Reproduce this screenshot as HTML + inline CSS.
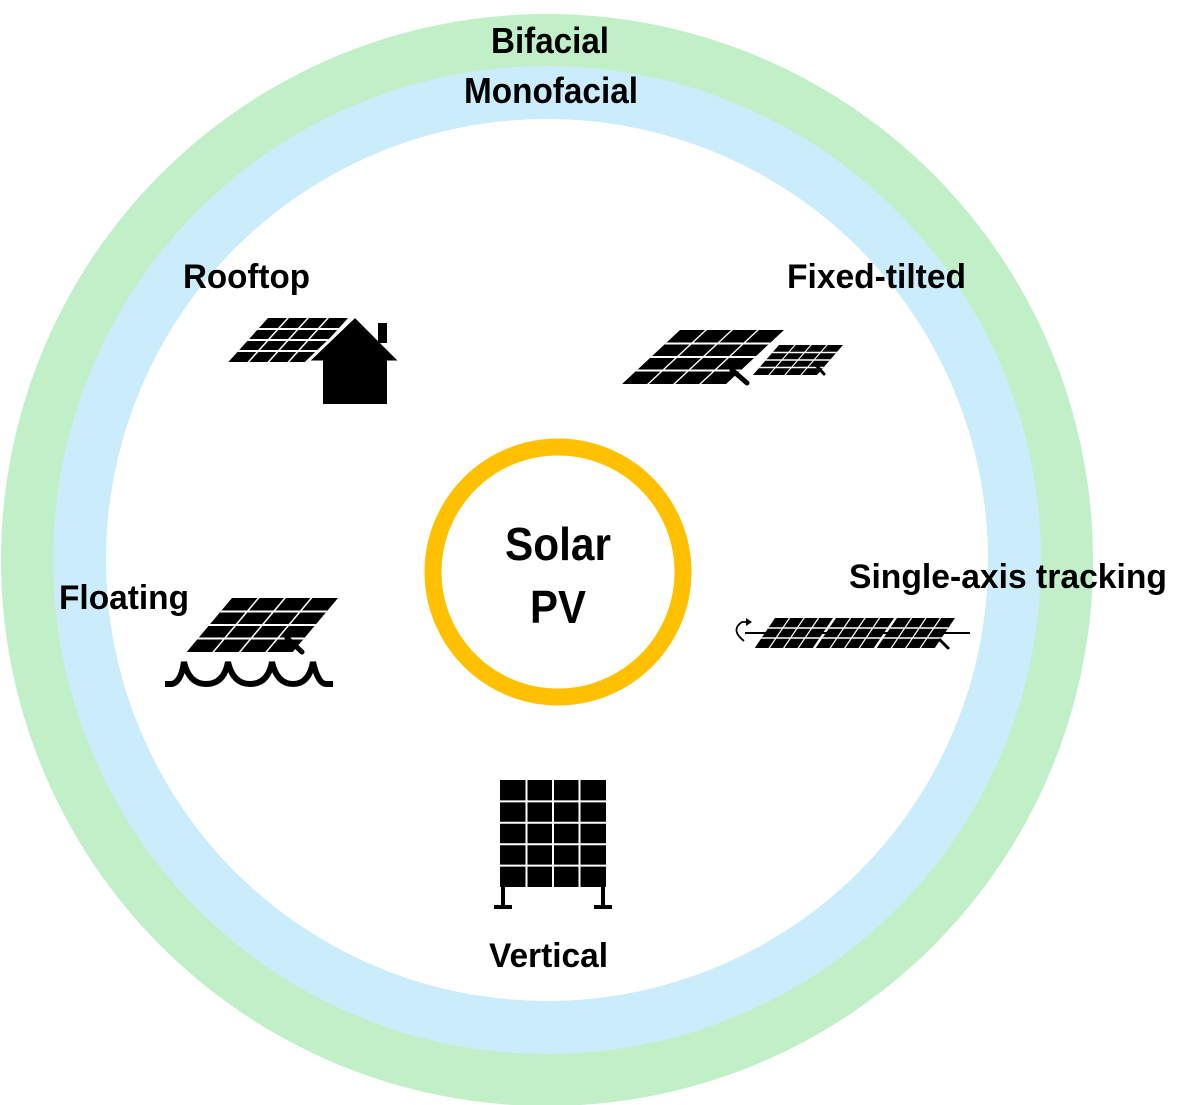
<!DOCTYPE html>
<html><head><meta charset="utf-8"><style>
html,body{margin:0;padding:0;background:#fff;width:1200px;height:1105px;overflow:hidden}
text{font-family:"Liberation Sans",Arial,sans-serif;font-weight:bold;fill:#000}
</style></head><body>
<svg width="1200" height="1105" viewBox="0 0 1200 1105" xmlns="http://www.w3.org/2000/svg">
<circle cx="547" cy="560" r="546" fill="#c1efc8"/>
<circle cx="547" cy="560" r="494" fill="#cbecfa"/>
<circle cx="547" cy="560" r="441" fill="#fff"/>
<circle cx="558" cy="572" r="125" fill="none" stroke="#ffc000" stroke-width="17"/>

<text x="491" y="53" font-size="36" textLength="118" lengthAdjust="spacingAndGlyphs">Bifacial</text>
<text x="464" y="103" font-size="36" textLength="174" lengthAdjust="spacingAndGlyphs">Monofacial</text>
<text x="183" y="288" font-size="34" textLength="127" lengthAdjust="spacingAndGlyphs">Rooftop</text>
<text x="787" y="288" font-size="34" textLength="179" lengthAdjust="spacingAndGlyphs">Fixed-tilted</text>
<text x="59" y="609" font-size="34" textLength="130" lengthAdjust="spacingAndGlyphs">Floating</text>
<text x="849" y="588" font-size="34" textLength="318" lengthAdjust="spacingAndGlyphs">Single-axis tracking</text>
<text x="489" y="967" font-size="34" textLength="119" lengthAdjust="spacingAndGlyphs">Vertical</text>
<text x="505" y="560" font-size="46" textLength="106" lengthAdjust="spacingAndGlyphs">Solar</text>
<text x="530" y="623" font-size="46" textLength="56" lengthAdjust="spacingAndGlyphs">PV</text>

<!-- Rooftop -->
<g transform="translate(268,318) skewX(-42)">
<rect width="80" height="44" fill="#000"/>
<g stroke="#fff" stroke-width="2"><line x1="20" y1="0" x2="20" y2="44"/><line x1="40" y1="0" x2="40" y2="44"/><line x1="60" y1="0" x2="60" y2="44"/>
<line x1="0" y1="11" x2="80" y2="11"/><line x1="0" y1="22" x2="80" y2="22"/><line x1="0" y1="33" x2="80" y2="33"/></g>
</g>
<polygon points="307,362 355,316 401,362" fill="#000" stroke="#fff" stroke-width="3"/>
<rect x="323" y="360" width="64" height="44" fill="#000"/>
<rect x="378" y="323" width="9" height="20" fill="#000"/>

<!-- Fixed tilted big -->
<g transform="translate(680,330) skewX(-47)">
<rect width="104" height="54" fill="#000"/>
<g stroke="#fff" stroke-width="2"><line x1="26" y1="0" x2="26" y2="54"/><line x1="52" y1="0" x2="52" y2="54"/><line x1="78" y1="0" x2="78" y2="54"/>
<line x1="0" y1="13.5" x2="104" y2="13.5"/><line x1="0" y1="27" x2="104" y2="27"/><line x1="0" y1="40.5" x2="104" y2="40.5"/></g>
</g>
<line x1="732" y1="370" x2="747" y2="383" stroke="#000" stroke-width="5" stroke-linecap="round"/>
<g transform="translate(779,345) skewX(-41)">
<rect width="64" height="30" fill="#000"/>
<g stroke="#fff" stroke-width="1.5"><line x1="16" y1="0" x2="16" y2="30"/><line x1="32" y1="0" x2="32" y2="30"/><line x1="48" y1="0" x2="48" y2="30"/>
<line x1="0" y1="7.5" x2="64" y2="7.5"/><line x1="0" y1="15" x2="64" y2="15"/><line x1="0" y1="22.5" x2="64" y2="22.5"/></g>
</g>
<line x1="815" y1="364" x2="824" y2="374" stroke="#000" stroke-width="3" stroke-linecap="round"/>

<!-- Floating -->
<g transform="translate(232,598) skewX(-40)">
<rect width="106" height="54" fill="#000"/>
<g stroke="#fff" stroke-width="2"><line x1="26.5" y1="0" x2="26.5" y2="54"/><line x1="53" y1="0" x2="53" y2="54"/><line x1="79.5" y1="0" x2="79.5" y2="54"/>
<line x1="0" y1="13.5" x2="106" y2="13.5"/><line x1="0" y1="27" x2="106" y2="27"/><line x1="0" y1="40.5" x2="106" y2="40.5"/></g>
</g>
<line x1="287" y1="638" x2="302" y2="652" stroke="#000" stroke-width="5" stroke-linecap="round"/>
<path d="M165,684 L172,684 Q181,682 184,662 Q189,684 206,684 Q224,684 228,662 Q233,684 250,684 Q268,684 272,662 Q277,684 293,684 Q309,684 313,662 Q318,684 326,684 L333,684" fill="none" stroke="#000" stroke-width="6"/>

<!-- Single axis -->
<line x1="745" y1="633" x2="970" y2="633" stroke="#000" stroke-width="2"/>
<path d="M744,641 Q730,630 742,622 L748,622" fill="none" stroke="#000" stroke-width="1.8"/>
<polygon points="746,618 752,622 746,626" fill="#000"/>
<g id="sa" transform="translate(775,618) skewX(-34)">
<rect width="58" height="30" fill="#000"/>
<g stroke="#fff" stroke-width="1.5"><line x1="14.5" y1="0" x2="14.5" y2="30"/><line x1="29" y1="0" x2="29" y2="30"/><line x1="43.5" y1="0" x2="43.5" y2="30"/>
<line x1="0" y1="10" x2="58" y2="10"/><line x1="0" y1="20" x2="58" y2="20"/></g>
</g>
<g transform="translate(836,618) skewX(-34)">
<rect width="58" height="30" fill="#000"/>
<g stroke="#fff" stroke-width="1.5"><line x1="14.5" y1="0" x2="14.5" y2="30"/><line x1="29" y1="0" x2="29" y2="30"/><line x1="43.5" y1="0" x2="43.5" y2="30"/>
<line x1="0" y1="10" x2="58" y2="10"/><line x1="0" y1="20" x2="58" y2="20"/></g>
</g>
<g transform="translate(897,618) skewX(-34)">
<rect width="58" height="30" fill="#000"/>
<g stroke="#fff" stroke-width="1.5"><line x1="14.5" y1="0" x2="14.5" y2="30"/><line x1="29" y1="0" x2="29" y2="30"/><line x1="43.5" y1="0" x2="43.5" y2="30"/>
<line x1="0" y1="10" x2="58" y2="10"/><line x1="0" y1="20" x2="58" y2="20"/></g>
</g>
<line x1="940" y1="640" x2="948" y2="648" stroke="#000" stroke-width="3" stroke-linecap="round"/>

<!-- Vertical -->
<rect x="500" y="780" width="106" height="107" fill="#000"/>
<g stroke="#fff" stroke-width="2"><line x1="526.5" y1="780" x2="526.5" y2="887"/><line x1="553" y1="780" x2="553" y2="887"/><line x1="579.5" y1="780" x2="579.5" y2="887"/>
<line x1="500" y1="801.4" x2="606" y2="801.4"/><line x1="500" y1="822.8" x2="606" y2="822.8"/><line x1="500" y1="844.2" x2="606" y2="844.2"/><line x1="500" y1="865.6" x2="606" y2="865.6"/></g>
<g stroke="#000" stroke-width="4"><line x1="503" y1="887" x2="503" y2="907"/><line x1="603" y1="887" x2="603" y2="907"/>
<line x1="494" y1="907" x2="512" y2="907"/><line x1="594" y1="907" x2="612" y2="907"/></g>
</svg>
</body></html>
